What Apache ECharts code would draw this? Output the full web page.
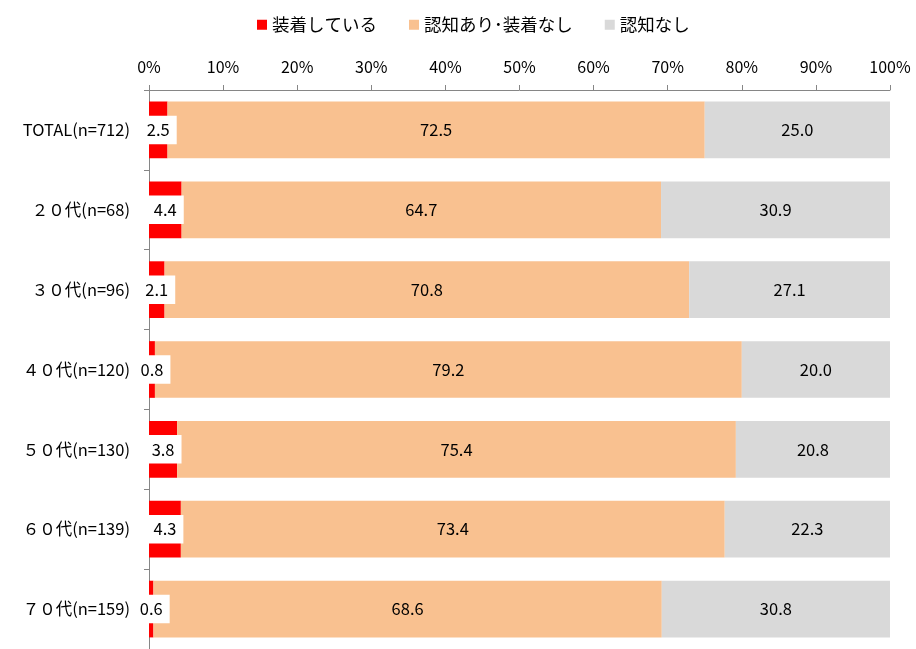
<!DOCTYPE html>
<html>
<head>
<meta charset="utf-8">
<script src="https://cdn.jsdelivr.net/npm/echarts@6/dist/echarts.min.js"></script>
<style>
html,body{margin:0;padding:0;background:#fff;}
#c{width:916px;height:649px;}
</style>
</head>
<body>
<div id="c"></div>
<script>
const categories = ['TOTAL(n=712)', '２０代(n=68)', '３０代(n=96)', '４０代(n=120)', '５０代(n=130)', '６０代(n=139)', '７０代(n=159)'];
const seriesNames = ['装着している', '認知あり･装着なし', '認知なし'];
const wearing = [2.5, 4.4, 2.1, 0.8, 3.8, 4.3, 0.6];
const awareNotWearing = [72.5, 64.7, 70.8, 79.2, 75.4, 73.4, 68.6];
const notAware = [25.0, 30.9, 27.1, 20.0, 20.8, 22.3, 30.8];
const tickLabels = ['0%', '10%', '20%', '30%', '40%', '50%', '60%', '70%', '80%', '90%', '100%'];

const FONT = '"Noto Sans CJK JP", "Noto Sans", sans-serif';
const colors = ['#FF0000', '#F9C190', '#D9D9D9'];

const chart = echarts.init(document.getElementById('c'), null, {renderer: 'canvas'});
const mk = (name, data, idx, extraLabel) => ({
  name: name,
  type: 'bar',
  stack: 'total',
  data: data,
  barCategoryGap: '29%',
  itemStyle: {color: colors[idx]},
  label: Object.assign({
    show: true,
    position: 'inside',
    color: '#000',
    fontSize: 16.5,
    fontFamily: FONT,
    formatter: p => p.value.toFixed(1)
  }, extraLabel || {}),
  emphasis: {disabled: true}
});

chart.setOption({
  animation: false,
  textStyle: {fontFamily: FONT},
  legend: {
    top: 11,
    left: 252,
    itemWidth: 10,
    itemHeight: 10,
    itemGap: 32,
    icon: 'rect',
    textStyle: {fontSize: 17.5, color: '#000', fontFamily: FONT},
    data: seriesNames
  },
  grid: {left: 149, right: 26, top: 90, height: 560, containLabel: false},
  xAxis: {
    type: 'value',
    position: 'top',
    min: 0,
    max: 100,
    interval: 10,
    axisLine: {show: true, lineStyle: {color: '#868686'}},
    axisTick: {show: true, length: 5, lineStyle: {color: '#868686'}},
    splitLine: {show: false},
    axisLabel: {
      fontSize: 16,
      color: '#000',
      margin: 15,
      fontFamily: FONT,
      formatter: v => tickLabels[Math.round(v / 10)]
    }
  },
  yAxis: {
    type: 'category',
    inverse: true,
    data: categories,
    axisLine: {show: true, lineStyle: {color: '#868686'}},
    axisTick: {show: true, length: 5, lineStyle: {color: '#868686'}},
    axisLabel: {fontSize: 16.5, color: '#000', margin: 19, fontFamily: FONT}
  },
  series: [
    mk(seriesNames[0], wearing, 0, {backgroundColor: '#fff', padding: [6, 7, 6, 7]}),
    mk(seriesNames[1], awareNotWearing, 1),
    mk(seriesNames[2], notAware, 2)
  ]
});
</script>
</body>
</html>
